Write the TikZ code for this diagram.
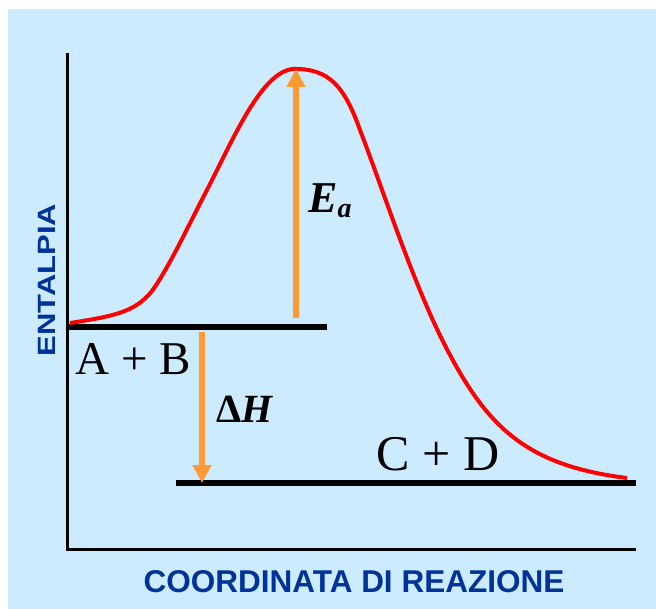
\documentclass[tikz,border=0pt]{standalone}
\usepackage{fontspec}
\setmainfont{Liberation Serif}
\setsansfont{Liberation Sans}
\usetikzlibrary{arrows.meta,positioning}
\definecolor{bgblue}{RGB}{204,235,255}
\definecolor{axisblue}{RGB}{0,51,153}
\definecolor{arrorange}{RGB}{255,153,51}
\begin{document}
\begin{tikzpicture}[x=1pt, y=-1pt,
  axis/.style={draw=black, line width=3pt},
  level/.style={draw=black, line width=5.5pt},
  path/.style={draw=red, line width=4pt, line join=round},
  jump/.style={draw=arrorange, line width=5.5pt, -{Triangle[width=18pt,length=18pt]}},
  species/.style={font=\fontsize{47}{50}\selectfont, inner sep=0pt, anchor=base},
  qty/.style={font=\fontsize{40}{42}\selectfont\bfseries\itshape, inner sep=0pt, anchor=base west},
  title/.style={font=\fontsize{31.5}{34}\selectfont\sffamily\bfseries, text=axisblue, inner sep=0pt}]
\useasboundingbox (0,0) rectangle (656,609);
\fill[white] (0,0) rectangle (656,609);
\fill[bgblue] (8,9) rectangle (656,609);
\coordinate (ytop) at (67,53);
\coordinate (origin) at (67,549);
\coordinate (xend) at (636,549);
\draw[axis] (ytop) -- (origin) -- (xend);
\coordinate (reactL) at (67,327);
\coordinate (reactR) at (327,327);
\coordinate (prodL) at (176,483);
\coordinate (prodR) at (636,483);
\draw[level] (reactL) -- (reactR);
\draw[level] (prodL) -- (prodR);
\draw[path] (70,323) .. controls (115,316) and (135,312) .. (152,291)
  .. controls (170,266) and (190,222) .. (208,188)
  .. controls (235,135) and (262,72) .. (293,69)
  .. controls (330,68) and (345,88) .. (360,130)
  .. controls (385,195) and (415,290) .. (450,355)
  .. controls (490,430) and (530,466) .. (627,478);
\coordinate (eaFoot) at (296,318);
\coordinate (eaTip) at (296,69);
\coordinate (dhFoot) at (202,332);
\coordinate (dhTip) at (202,483);
\draw[jump] (eaFoot) -- (eaTip);
\draw[jump] (dhFoot) -- (dhTip);
\node[species] (reactants) at (133,375) {A + B};
\node[species, font=\fontsize{50}{52}\selectfont] (products) at (438,470) {C + D};
\node[qty, font=\fontsize{44}{46}\selectfont\bfseries\itshape] (ea) at (308,213) {E\textsubscript{\fontsize{28}{30}\selectfont a}};
\node[qty] (dh) at (216,423) {{\upshape Δ}H};
\node[title, anchor=base] (xlabel) at (354,592) {COORDINATA DI REAZIONE};
\node[title, rotate=90, anchor=base, font=\fontsize{25}{27}\selectfont\sffamily\bfseries] (ylabel) at (55,280) {\scalebox{1.24}[1]{ENTALPIA}};
\end{tikzpicture}
\end{document}
